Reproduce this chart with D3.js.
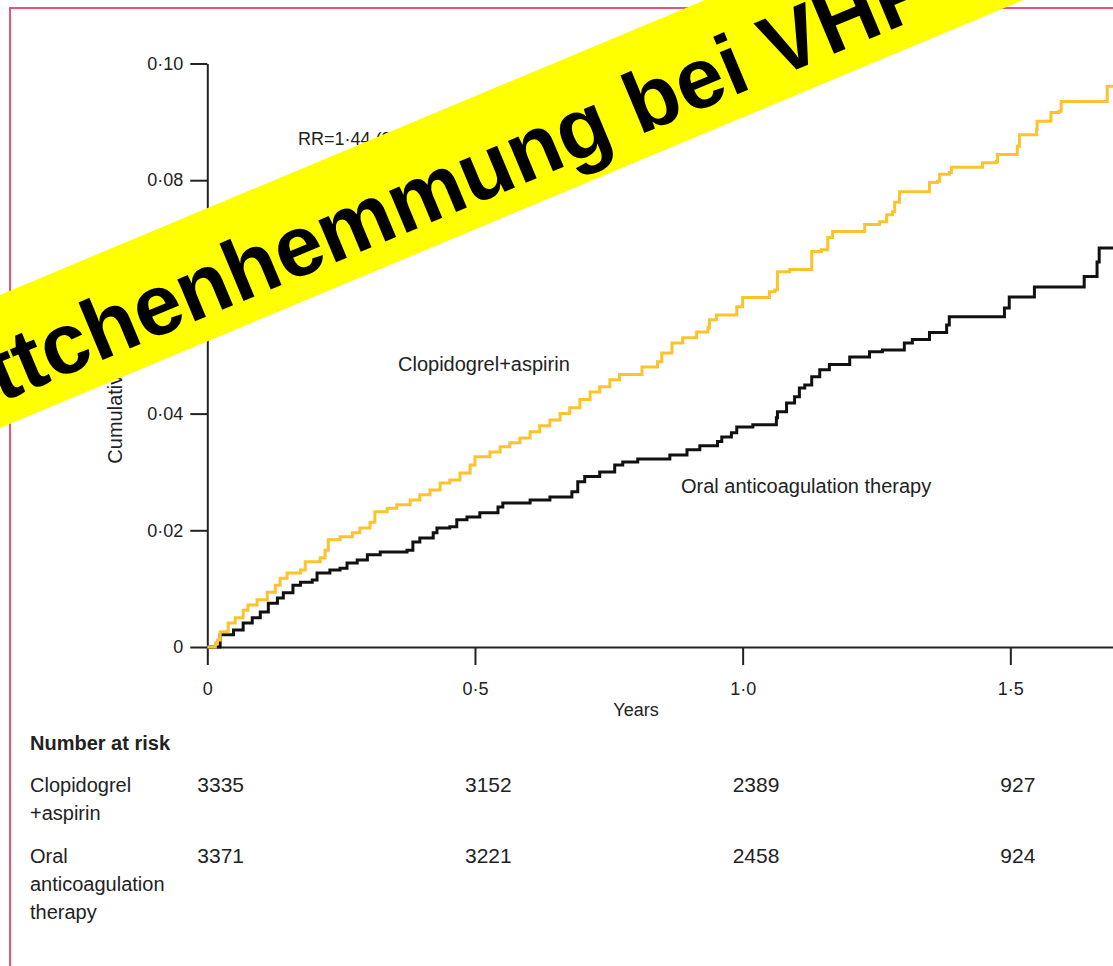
<!DOCTYPE html>
<html>
<head>
<meta charset="utf-8">
<script src="https://cdn.jsdelivr.net/npm/d3@7"></script>
<style>
  body { margin: 0; background: #fff; }
  svg { display: block; }
  text { font-family: "Liberation Sans", Arial, sans-serif; fill: #222; }
</style>
</head>
<body>
<svg id="chart"></svg>
<script>
// Clopidogrel + aspirin: step times (years) and cumulative values
const clopiTimes = [0, 0.015, 0.019, 0.024, 0.039, 0.052, 0.067, 0.076, 0.093, 0.112, 0.127, 0.136, 0.149, 0.174, 0.183, 0.211, 0.220, 0.226, 0.248, 0.271, 0.285, 0.304, 0.313, 0.336, 0.354, 0.379, 0.397, 0.416, 0.435, 0.453, 0.472, 0.491, 0.500, 0.528, 0.547, 0.565, 0.584, 0.603, 0.621, 0.640, 0.659, 0.677, 0.696, 0.715, 0.733, 0.752, 0.770, 0.812, 0.841, 0.849, 0.868, 0.888, 0.914, 0.935, 0.938, 0.951, 0.989, 1.000, 1.050, 1.060, 1.065, 1.088, 1.129, 1.147, 1.159, 1.168, 1.228, 1.256, 1.269, 1.280, 1.284, 1.293, 1.349, 1.364, 1.368, 1.386, 1.390, 1.448, 1.474, 1.476, 1.513, 1.517, 1.549, 1.550, 1.576, 1.591, 1.595, 1.681, 1.75];
const clopiValues = [0, 0.0007, 0.0012, 0.0026, 0.0041, 0.0050, 0.0063, 0.0072, 0.0081, 0.0094, 0.0106, 0.0118, 0.0127, 0.0132, 0.0146, 0.0153, 0.0166, 0.0184, 0.0189, 0.0196, 0.0204, 0.0214, 0.0232, 0.0238, 0.0244, 0.0252, 0.0261, 0.0269, 0.0281, 0.0286, 0.0298, 0.0312, 0.0326, 0.0334, 0.0343, 0.0350, 0.0358, 0.0369, 0.0379, 0.0389, 0.0400, 0.0410, 0.0424, 0.0437, 0.0446, 0.0458, 0.0467, 0.0480, 0.0489, 0.0504, 0.0521, 0.0530, 0.0540, 0.0547, 0.0561, 0.0569, 0.0583, 0.0599, 0.0609, 0.0612, 0.0643, 0.0647, 0.0678, 0.0681, 0.0702, 0.0712, 0.0724, 0.0729, 0.0741, 0.0746, 0.0762, 0.0780, 0.0796, 0.0798, 0.0810, 0.0813, 0.0822, 0.0830, 0.0832, 0.0844, 0.0858, 0.0878, 0.0887, 0.0901, 0.0916, 0.0918, 0.0935, 0.0961, 0.0961];

// Oral anticoagulation therapy
const oacTimes = [0, 0.024, 0.049, 0.067, 0.084, 0.099, 0.114, 0.131, 0.142, 0.160, 0.174, 0.196, 0.205, 0.229, 0.248, 0.261, 0.280, 0.299, 0.323, 0.373, 0.384, 0.397, 0.422, 0.429, 0.453, 0.466, 0.485, 0.509, 0.543, 0.552, 0.603, 0.640, 0.681, 0.692, 0.705, 0.733, 0.761, 0.776, 0.804, 0.864, 0.896, 0.920, 0.953, 0.961, 0.979, 0.989, 1.019, 1.063, 1.065, 1.082, 1.097, 1.106, 1.116, 1.129, 1.144, 1.162, 1.200, 1.237, 1.261, 1.302, 1.317, 1.349, 1.381, 1.386, 1.489, 1.498, 1.545, 1.638, 1.662, 1.666, 1.75];
const oacValues = [0, 0.0021, 0.0029, 0.0041, 0.0050, 0.0060, 0.0075, 0.0084, 0.0093, 0.0106, 0.0111, 0.0115, 0.0127, 0.0132, 0.0135, 0.0144, 0.0149, 0.0158, 0.0163, 0.0166, 0.0180, 0.0187, 0.0196, 0.0204, 0.0206, 0.0218, 0.0223, 0.0230, 0.0240, 0.0247, 0.0252, 0.0257, 0.0266, 0.0283, 0.0292, 0.0300, 0.0312, 0.0317, 0.0322, 0.0329, 0.0338, 0.0345, 0.0352, 0.0360, 0.0367, 0.0377, 0.0381, 0.0393, 0.0403, 0.0418, 0.0429, 0.0444, 0.0449, 0.0463, 0.0475, 0.0484, 0.0497, 0.0506, 0.0509, 0.0521, 0.0527, 0.0539, 0.0552, 0.0566, 0.0581, 0.0600, 0.0617, 0.0635, 0.0660, 0.0684, 0.0684];

// Axis ticks and number-at-risk table
const xTicks = [0, 0.5, 1.0, 1.5];
const yTicks = [0, 0.02, 0.04, 0.06, 0.08, 0.10];
const riskTimes = [0, 0.5, 1.0, 1.5];
const clopiAtRisk = [3335, 3152, 2389, 927];
const oacAtRisk = [3371, 3221, 2458, 924];

const width = 1113, height = 966;
const svg = d3.select('#chart').attr('width', width).attr('height', height);

svg.append('rect').attr('width', width).attr('height', height).attr('fill', '#fff');

// Pink frame (runs off the right and bottom)
svg.append('rect')
  .attr('x', 10).attr('y', 8)
  .attr('width', 1300).attr('height', 1100)
  .attr('fill', 'none')
  .attr('stroke', '#e8527f')
  .attr('stroke-width', 2);

const x = d3.scaleLinear().domain([0, 2]).range([207.3, 1278]);
const y = d3.scaleLinear().domain([0, 0.10]).range([647, 63.5]);

const fmt = d => d === 0 ? '0' : d3.format('.2f')(d).replace('.', '·');
const fmtX = d => d === 0 ? '0' : d3.format('.1f')(d).replace('.', '·');

// Y axis
const yAxis = svg.append('g')
  .attr('transform', `translate(${x(0)},0)`)
  .call(d3.axisLeft(y).tickValues(yTicks).tickFormat(fmt).tickSize(17).tickSizeOuter(0).tickPadding(7));

// X axis (line runs past the right edge)
const xAxis = svg.append('g')
  .attr('transform', `translate(0,${y(0)})`)
  .call(d3.axisBottom(x).tickValues(xTicks).tickFormat(fmtX).tickSize(18).tickSizeOuter(0).tickPadding(17));

[yAxis, xAxis].forEach(a => {
  a.select('.domain').attr('stroke', '#222').attr('stroke-width', 2);
  a.selectAll('.tick line').attr('stroke', '#222').attr('stroke-width', 2);
  a.selectAll('.tick text')
    .style('font-family', '"Liberation Sans", Arial, sans-serif')
    .style('font-size', '18px')
    .attr('fill', '#222');
});

// Axis titles
svg.append('text')
  .attr('x', 636).attr('y', 716)
  .attr('text-anchor', 'middle')
  .style('font-size', '18px')
  .text('Years');

svg.append('text')
  .attr('transform', `translate(122,${(y(0) + y(0.10)) / 2}) rotate(-90)`)
  .attr('text-anchor', 'middle')
  .style('font-size', '20px')
  .text('Cumulative hazard rates');

// Curves
const line = d3.line()
  .x(d => x(d[0]))
  .y(d => y(d[1]))
  .curve(d3.curveStepAfter);

const oacData = oacTimes.map((t, i) => [t, oacValues[i]]);
const clopiData = clopiTimes.map((t, i) => [t, clopiValues[i]]);

svg.append('path')
  .datum(oacData)
  .attr('d', line)
  .attr('fill', 'none')
  .attr('stroke', '#111')
  .attr('stroke-width', 3);

svg.append('path')
  .datum(clopiData)
  .attr('d', line)
  .attr('fill', 'none')
  .attr('stroke', '#fcc32e')
  .attr('stroke-width', 3);

// In-plot labels
svg.append('text')
  .attr('x', 298).attr('y', 145)
  .style('font-size', '18px')
  .text('RR=1·44 (95% CI 1·18–1·76)');

svg.append('text')
  .attr('x', 398).attr('y', 371)
  .style('font-size', '20px')
  .text('Clopidogrel+aspirin');

svg.append('text')
  .attr('x', 681).attr('y', 493)
  .style('font-size', '20px')
  .text('Oral anticoagulation therapy');

// Number at risk table
svg.append('text')
  .attr('x', 30).attr('y', 750)
  .style('font-size', '20px')
  .style('font-weight', 'bold')
  .text('Number at risk');

const rowLabels = [
  { lines: ['Clopidogrel', '+aspirin'], y: 792, values: clopiAtRisk },
  { lines: ['Oral', 'anticoagulation', 'therapy'], y: 863, values: oacAtRisk }
];

rowLabels.forEach(row => {
  const t = svg.append('text').attr('x', 30).attr('y', row.y).style('font-size', '20px');
  row.lines.forEach((s, i) => {
    t.append('tspan').attr('x', 30).attr('dy', i === 0 ? 0 : 28).text(s);
  });
  svg.selectAll(null)
    .data(row.values)
    .enter()
    .append('text')
    .attr('x', (d, i) => x(riskTimes[i]) - 10)
    .attr('y', row.y)
    .style('font-size', '21px')
    .text(d => d);
});

// Yellow banner over the chart
const banner = svg.append('g')
  .attr('transform', 'translate(0,361.5) rotate(-22.7)');

banner.append('rect')
  .attr('x', -400).attr('y', -61.4)
  .attr('width', 2200).attr('height', 122.8)
  .attr('fill', '#ffff00');

banner.append('text')
  .attr('x', -145).attr('y', 38)
  .style('font-family', '"Liberation Sans", Arial, sans-serif')
  .style('font-size', '86px')
  .style('font-weight', 'bold')
  .style('fill', '#000')
  .text('Plättchenhemmung bei VHF');
</script>
</body>
</html>
